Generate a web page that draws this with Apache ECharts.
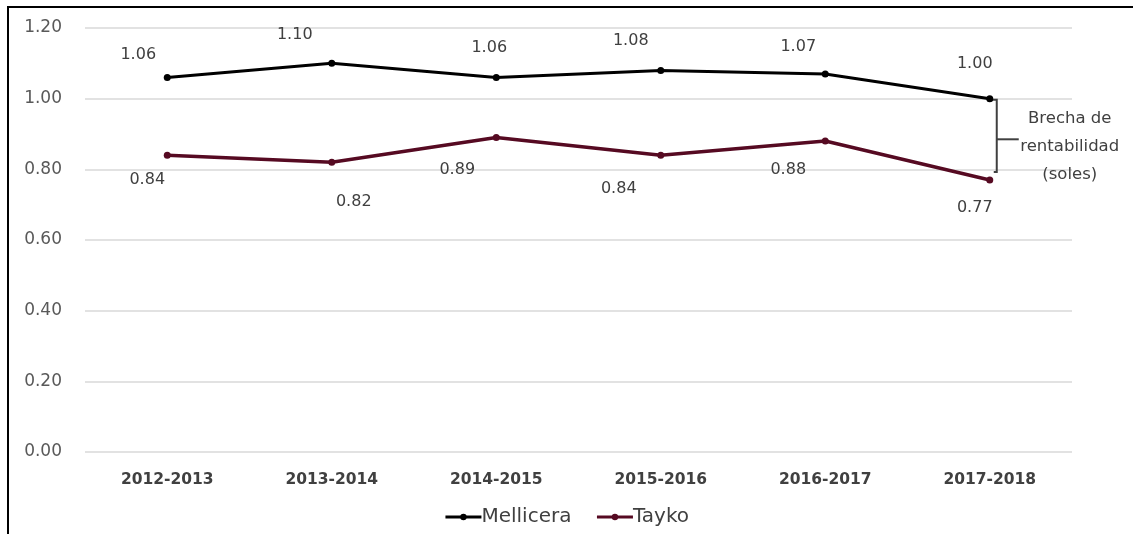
<!DOCTYPE html>
<html>
<head>
<meta charset="utf-8">
<script src="https://cdn.jsdelivr.net/npm/echarts@6/dist/echarts.min.js"></script>
<style>
html,body{margin:0;padding:0;background:#fff;}
#c{width:1133px;height:534px;}
</style>
</head>
<body>
<div id="c"></div>
<script>
const categories = ['2012-2013','2013-2014','2014-2015','2015-2016','2016-2017','2017-2018'];
const mellicera = [1.06, 1.10, 1.06, 1.08, 1.07, 1.00];
const tayko = [0.84, 0.82, 0.89, 0.84, 0.88, 0.77];
const yTicks = [0, 0.2, 0.4, 0.6, 0.8, 1.0, 1.2];

// label offsets (pixels) relative to each point, as placed in the original
const mellOffsets = [[-29,-23],[-37,-28],[-7,-30],[-30,-30],[-27,-27],[-15,-35]];
const taykoOffsets = [[-20,25],[22,40],[-39,32],[-42,34],[-37,29],[-15,28]];

const FONT = 'DejaVu Sans';
const chart = echarts.init(document.getElementById('c'), null, {renderer:'canvas'});

function mkData(vals, offs){
  return vals.map((v,i)=>({
    value: v,
    label: {offset: offs[i]}
  }));
}

const labelBase = {
  show: true,
  position: 'inside',
  formatter: p => p.value.toFixed(2),
  fontFamily: FONT,
  fontSize: 16,
  color: '#404040'
};

const option = {
  backgroundColor: '#fff',
  animation: false,
  grid: {left: 85, right: 61, top: 28, bottom: 82, containLabel: false},
  xAxis: {
    type: 'category',
    data: categories,
    boundaryGap: true,
    axisLine: {show: false},
    axisTick: {show: false},
    axisLabel: {fontFamily: FONT, fontWeight: 'bold', fontSize: 15.5, color: '#404040', margin: 20}
  },
  yAxis: {
    type: 'value',
    min: yTicks[0], max: yTicks[yTicks.length-1], interval: 0.2,
    axisLine: {show: false},
    axisTick: {show: false},
    splitLine: {lineStyle: {color: '#d9d9d9', width: 1.5}},
    axisLabel: {fontFamily: FONT, fontSize: 17, color: '#595959', margin: 23,
      formatter: v => v.toFixed(2)}
  },
  legend: {
    bottom: 2,
    left: 'center',
    itemWidth: 36,
    itemHeight: 8,
    itemGap: 24,
    lineStyle: {width: 3},
    textStyle: {fontFamily: FONT, fontSize: 20, color: '#404040', padding: [0,0,0,-5]},
    data: ['Mellicera','Tayko']
  },
  series: [
    {
      name: 'Mellicera', type: 'line',
      data: mkData(mellicera, mellOffsets),
      color: '#000000',
      lineStyle: {width: 3, color: '#000000'},
      symbol: 'circle', symbolSize: 7,
      itemStyle: {color: '#000000'},
      label: labelBase
    },
    {
      name: 'Tayko', type: 'line',
      data: mkData(tayko, taykoOffsets),
      color: '#560a22',
      lineStyle: {width: 3.5, color: '#560a22'},
      symbol: 'circle', symbolSize: 7,
      itemStyle: {color: '#560a22'},
      label: labelBase
    }
  ]
};
chart.setOption(option);

// Bracket annotation computed through the chart's own scales
const last = categories.length - 1;
const pTop = chart.convertToPixel({gridIndex:0}, [last, mellicera[last]]);
const pBot = chart.convertToPixel({gridIndex:0}, [last, tayko[last]]);
const bx = pTop[0] + 7;
const midY = (pTop[1] + pBot[1]) / 2;
const stroke = {stroke: '#404040', lineWidth: 2};
chart.setOption({
  graphic: [
    {type:'polyline', shape:{points:[[pTop[0],pTop[1]+1],[bx,pTop[1]+1],[bx,pBot[1]-8],[bx-3,pBot[1]-8]]}, style:{stroke:'#404040', lineWidth:2, fill:null}, silent:true},
    {type:'line', shape:{x1:bx, y1:midY, x2:bx+22, y2:midY}, style:stroke, silent:true},
    {type:'text', x: pTop[0]+80, y: midY + 7, style:{text:'Brecha de\nrentabilidad\n(soles)', fill:'#404040', font:'16.5px "DejaVu Sans"', align:'center', verticalAlign:'middle', lineHeight:28}, silent:true},
    // image frame (top and left edges)
    {type:'line', shape:{x1:7, y1:7, x2:1133, y2:7}, style:{stroke:'#000', lineWidth:2}, silent:true},
    {type:'line', shape:{x1:8, y1:6, x2:8, y2:534}, style:{stroke:'#000', lineWidth:2}, silent:true}
  ]
});
</script>
</body>
</html>
